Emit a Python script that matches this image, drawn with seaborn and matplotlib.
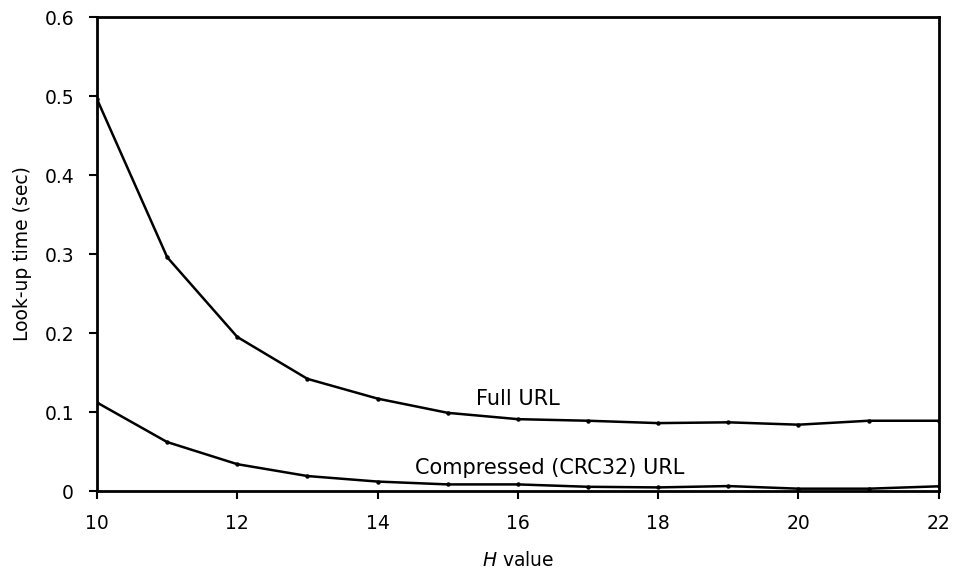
import numpy as np
import pandas as pd
import matplotlib
matplotlib.use('Agg')
import matplotlib.pyplot as plt
import seaborn as sns

# data
h_values = [10, 11, 12, 13, 14, 15, 16, 17, 18, 19, 20, 21, 22]
full_url = [0.496, 0.296, 0.195, 0.142, 0.117, 0.099, 0.091, 0.089, 0.086, 0.087, 0.084, 0.089, 0.089]
crc32_url = [0.112, 0.062, 0.034, 0.019, 0.012, 0.0084, 0.0084, 0.0054, 0.0046, 0.0063, 0.003, 0.003, 0.006]

x_ticks = [10, 12, 14, 16, 18, 20, 22]
y_ticks = [0, 0.1, 0.2, 0.3, 0.4, 0.5, 0.6]
y_tick_labels = ['0', '0.1', '0.2', '0.3', '0.4', '0.5', '0.6']

df = pd.DataFrame({
    'H': h_values * 2,
    'time': full_url + crc32_url,
    'series': ['Full URL'] * len(h_values) + ['Compressed (CRC32) URL'] * len(h_values),
})

sns.set_style('white')
plt.rcParams['font.family'] = ['DejaVu Sans']
plt.rcParams['text.color'] = 'black'
plt.rcParams['axes.labelcolor'] = 'black'
plt.rcParams['xtick.color'] = 'black'
plt.rcParams['ytick.color'] = 'black'
plt.rcParams['mathtext.fontset'] = 'dejavusans'
FS = 15
TICK_FS = 13.5

fig = plt.figure(figsize=(9.56, 5.69), dpi=100)
ax = fig.add_axes([0.1015, 0.137, 0.8805, 0.833])

sns.lineplot(data=df, x='H', y='time', units='series', estimator=None,
             color='black', linewidth=1.8, marker='o', markersize=3.2,
             markeredgewidth=0, ax=ax, legend=False)

ax.set_xlim(10, 22)
ax.set_ylim(0, 0.6)
ax.set_xticks(x_ticks)
ax.set_xticklabels([str(t) for t in x_ticks], fontsize=TICK_FS)
ax.set_yticks(y_ticks)
ax.set_yticklabels(y_tick_labels, fontsize=TICK_FS)
ax.tick_params(direction='out', length=5.5, width=1.5, bottom=True, left=True)
ax.tick_params(axis='x', pad=11)
ax.tick_params(axis='y', pad=11)

for s in ax.spines.values():
    s.set_color('black')
    s.set_linewidth(2)

ax.set_xlabel('$\\it{H}$ value', fontsize=TICK_FS, labelpad=13)
ax.set_ylabel('Look-up time (sec)', fontsize=TICK_FS, labelpad=9)

ax.text(16.0, 0.116, 'Full URL', fontsize=FS, ha='center', va='center')
ax.text(16.45, 0.029, 'Compressed (CRC32) URL', fontsize=FS, ha='center', va='center')

fig.savefig('out.png', dpi=100)
